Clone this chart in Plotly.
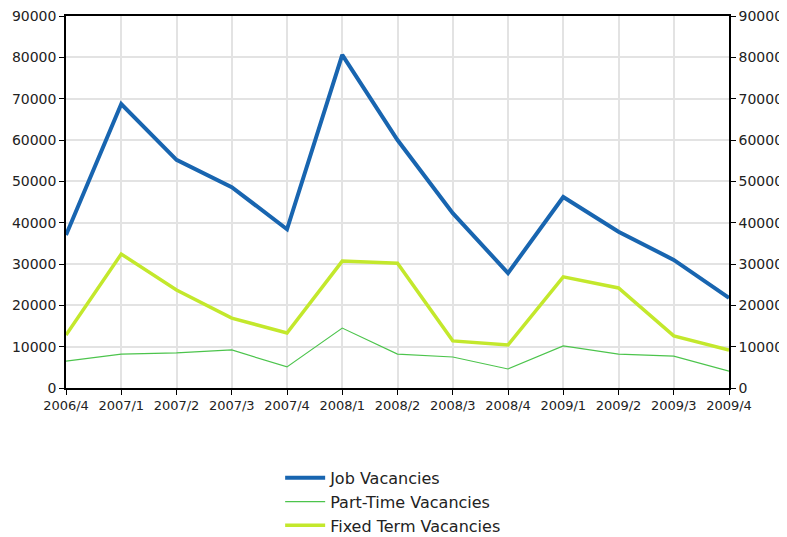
import plotly.graph_objects as go

QUARTERS = ["2006/4", "2007/1", "2007/2", "2007/3", "2007/4", "2008/1", "2008/2",
            "2008/3", "2008/4", "2009/1", "2009/2", "2009/3", "2009/4"]
JOB = [37000, 68700, 55200, 48600, 38400, 80600, 60000, 42300, 27800, 46200, 37800, 31000, 21800]
PART_TIME = [6500, 8200, 8500, 9200, 5100, 14500, 8200, 7500, 4600, 10200, 8200, 7700, 4100]
FIXED_TERM = [12800, 32400, 23700, 16900, 13300, 30700, 30200, 11400, 10400, 26900, 24200, 12600, 9200]
Y_TICKS = list(range(0, 90001, 10000))

FONT = "DejaVu Sans, Verdana, sans-serif"
GRID = "#e3e3e3"

fig = go.Figure()
fig.add_trace(go.Scatter(x=QUARTERS, y=JOB, mode="lines", name="Job Vacancies",
                         line=dict(color="#1865b0", width=4)))
# part-time on the mirrored right axis so that axis gets drawn (same fixed range)
fig.add_trace(go.Scatter(x=QUARTERS, y=PART_TIME, mode="lines", name="Part-Time Vacancies",
                         line=dict(color="#4cc44c", width=1.2), yaxis="y2"))
fig.add_trace(go.Scatter(x=QUARTERS, y=FIXED_TERM, mode="lines", name="Fixed Term Vacancies",
                         line=dict(color="#c3e82c", width=3.5)))

yaxis_common = dict(
    range=[0, 90000], tickvals=Y_TICKS, ticktext=[str(v) for v in Y_TICKS],
    showline=True, linecolor="black", linewidth=1.5, ticks="outside", ticklen=5,
    tickcolor="black", tickfont=dict(family=FONT, size=14, color="#222"),
    zeroline=False, automargin=False, ticklabeloverflow="allow",
)

# the page body adds an 8px margin, so the figure is sized to what is left of the window
fig.update_layout(
    width=779, height=529,
    margin=dict(l=58, r=58, t=8, b=149, autoexpand=False),
    plot_bgcolor="white", paper_bgcolor="white",
    font=dict(family=FONT, color="#222"),
    showlegend=True,
    legend=dict(x=0.323, xanchor="left", y=-0.306, yanchor="middle",
                font=dict(family=FONT, size=16, color="#222"),
                tracegroupgap=0, itemwidth=40, bgcolor="rgba(0,0,0,0)"),
    xaxis=dict(
        range=[0, 12], showline=True, linecolor="black", linewidth=1.5, mirror=True,
        ticks="outside", ticklen=5, tickcolor="black", tickangle=0,
        showgrid=True, gridcolor=GRID, gridwidth=1.5, automargin=False,
        ticklabeloverflow="allow",
        tickfont=dict(family=FONT, size=13, color="#222"),
    ),
    yaxis=dict(**yaxis_common, showgrid=True, gridcolor=GRID, gridwidth=1.5),
    yaxis2=dict(**yaxis_common, overlaying="y", side="right", showgrid=False),
)

fig.write_html("out.html")
